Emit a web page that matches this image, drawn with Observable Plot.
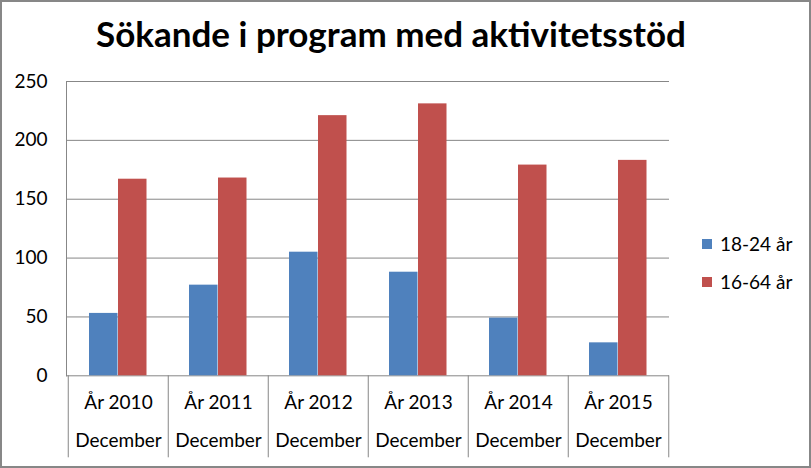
<!DOCTYPE html>
<html>
<head>
<meta charset="utf-8">
<script src="https://cdn.jsdelivr.net/npm/d3@7"></script>
<script src="https://cdn.jsdelivr.net/npm/@observablehq/plot@0.6"></script>
<style>
  html, body { margin: 0; padding: 0; background: white; }
  #chart { position: relative; width: 811px; height: 468px; background: white; overflow: hidden; font-family: Lato, "Liberation Sans", sans-serif; }
  #title { position: absolute; top: 16px; left: 0; width: 782px; text-align: center; font-weight: bold; font-size: 35px; line-height: 1; color: #000; white-space: nowrap; }
  #plot { position: absolute; top: 68px; left: 0; }
  #legend { position: absolute; left: 702px; top: 232px; font-size: 19px; color: #000; }
  .item { position: relative; height: 38px; }
  .sw { position: absolute; left: 0; top: 7px; width: 10px; height: 10px; }
  .lab { position: absolute; left: 18px; top: 0; line-height: 24px; white-space: nowrap; }
  #border { position: absolute; left: 0; top: 0; width: 811px; height: 468px; box-sizing: border-box; border: 2px solid #878787; pointer-events: none; }
</style>
</head>
<body>
<div id="chart">
  <div id="title">Sökande i program med aktivitetsstöd</div>
  <div id="plot"></div>
  <div id="legend"></div>
  <div id="border"></div>
</div>
<script>
const years = ["År 2010", "År 2011", "År 2012", "År 2013", "År 2014", "År 2015"];
const months = ["December", "December", "December", "December", "December", "December"];
const seriesNames = ["18-24 år", "16-64 år"];
const youth = [53, 77, 105, 88, 49, 28];
const total = [167, 168, 221, 231, 179, 183];
const yTicks = [0, 50, 100, 150, 200, 250];
const colors = ["#4F81BD", "#C0504D"];

const youthData = years.map((y, i) => ({year: y, value: youth[i]}));
const totalData = years.map((y, i) => ({year: y, value: total[i]}));

const W = 811, H = 400;
const mL = 66, mR = 142, mT = 13, mB = 92.7;
const band = (W - mL - mR) / years.length;
const frameH = H - mT - mB;
const grid = "#878787";

const chart = Plot.plot({
  width: W,
  height: H,
  marginLeft: mL,
  marginRight: mR,
  marginTop: mT,
  marginBottom: mB,
  style: {fontFamily: "Lato, 'Liberation Sans', sans-serif", fontSize: "19px", background: "white", color: "#000"},
  x: {type: "band", domain: years, padding: 0, axis: null},
  y: {domain: [0, 250], nice: false, axis: null},
  marks: [
    Plot.ruleY(yTicks, {y: d => d, stroke: grid, strokeWidth: 1}),
    Plot.frame({anchor: "left", stroke: grid, strokeWidth: 1}),
    Plot.barY(youthData, {x: "year", y: "value", fill: colors[0], insetLeft: 21, insetRight: band - 50}),
    Plot.barY(totalData, {x: "year", y: "value", fill: colors[1], insetLeft: 50, insetRight: band - 79}),
    Plot.ruleX(years, {x: d => d, dx: -band / 2, stroke: grid, strokeWidth: 1, insetTop: frameH, insetBottom: -82}),
    Plot.ruleX([years[years.length - 1]], {x: d => d, dx: band / 2, stroke: grid, strokeWidth: 1, insetTop: frameH, insetBottom: -82}),
    Plot.axisY(yTicks, {tickSize: 0, tickPadding: 19, fontSize: 19, label: null}),
    Plot.text(years, {x: d => d, text: d => d, frameAnchor: "bottom", dy: 33, fontSize: 19, fill: "#000"}),
    Plot.text(months, {x: (d, i) => years[i], text: d => d, frameAnchor: "bottom", dy: 71, fontSize: 19, fill: "#000"})
  ]
});
document.getElementById("plot").appendChild(chart);

const legend = document.getElementById("legend");
seriesNames.forEach((name, i) => {
  const item = document.createElement("div");
  item.className = "item";
  const sw = document.createElement("div");
  sw.className = "sw";
  sw.style.background = colors[i];
  const lab = document.createElement("div");
  lab.className = "lab";
  lab.textContent = name;
  item.appendChild(sw);
  item.appendChild(lab);
  legend.appendChild(item);
});
</script>
</body>
</html>
